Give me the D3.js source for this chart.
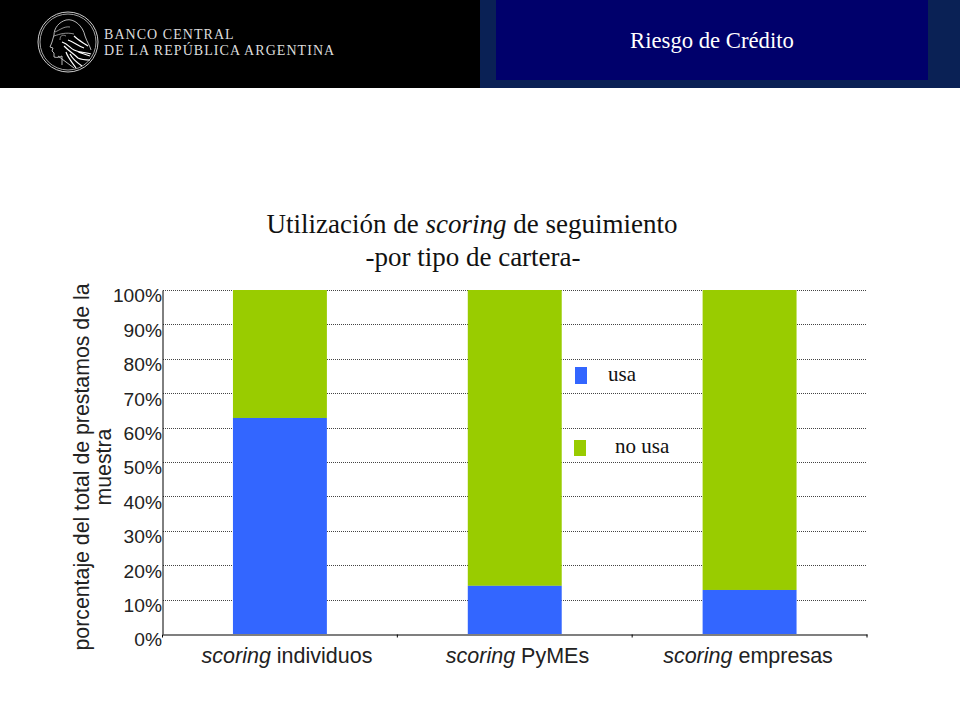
<!DOCTYPE html>
<html><head><meta charset="utf-8">
<script src="https://cdn.jsdelivr.net/npm/d3@7"></script>
<style>html,body{margin:0;padding:0;background:#fff}svg{display:block}</style>
</head><body>
<svg id="c" width="960" height="720"></svg>
<script>
const categories = ["individuos", "PyMEs", "empresas"];
const usa = [62.8, 14, 12.8];
const noUsa = [37.2, 86, 87.2];
const yTicks = [0,10,20,30,40,50,60,70,80,90,100];
const seriesNames = ["usa", "no usa"];
const colors = ["#3366ff", "#99cc00"];

const svg = d3.select("#c");
const sans = "'Liberation Sans',Arial,sans-serif", serif = "'Liberation Serif','Times New Roman',serif";

// header
svg.append("rect").attr("width",480).attr("height",88).attr("fill","#000");
svg.append("rect").attr("x",480).attr("width",480).attr("height",88).attr("fill","#0a2155");
svg.append("rect").attr("x",496).attr("width",432).attr("height",80).attr("fill","#00006b");
svg.append("text").attr("x",712).attr("y",48).attr("text-anchor","middle").attr("fill","#fff")
  .attr("font-family",serif).attr("font-size",22.7).text("Riesgo de Crédito");

// logo
const logo = svg.append("g").attr("fill","none").attr("stroke","#ccc");
logo.append("circle").attr("cx",68).attr("cy",42).attr("r",30).attr("stroke-width",1);
logo.append("circle").attr("cx",68).attr("cy",42).attr("r",28).attr("stroke-width",.8);
logo.append("path").attr("stroke-width",.9)
  .attr("d","M66 20C59 22 54 28 54 35L52 42L50 47L53 48L52 51L54 53L54 57C57 58 60 57 62 56L62 65M58 56L74 68M66 20C74 18 83 26 85 36C87 42 90 46 91 50");
logo.append("path").attr("stroke-width",.7)
  .attr("d","M55 32C60 30 64 26 70 27M54 36C60 34 66 32 74 34M60 40C60 36 62 34 66 36");
logo.append("path").attr("stroke","#fff").attr("stroke-width",1.2)
  .attr("d","M62 42C68 44 70 48 74 50C80 53 86 52 91 54M64 46C70 52 74 54 78 58C82 60 86 60 90 60M68 40C74 42 78 46 84 48M70 54C72 58 76 62 82 66M74 36C78 40 82 42 88 46M66 52C68 58 72 62 76 68M78 52L90 56");
svg.append("text").attr("x",104).attr("y",39).attr("fill","#ddd").attr("font-family",serif)
  .attr("font-size",14).attr("letter-spacing",1.05).text("BANCO CENTRAL");
svg.append("text").attr("x",104).attr("y",55).attr("fill","#ddd").attr("font-family",serif)
  .attr("font-size",14).attr("letter-spacing",1.05).text("DE LA REPÚBLICA ARGENTINA");

// title
const t1 = svg.append("text").attr("x",472).attr("y",233).attr("text-anchor","middle")
  .attr("font-family",serif).attr("font-size",27).attr("fill","#111");
t1.append("tspan").text("Utilización de ");
t1.append("tspan").attr("font-style","italic").text("scoring");
t1.append("tspan").text(" de seguimiento");
svg.append("text").attr("x",473).attr("y",266).attr("text-anchor","middle")
  .attr("font-family",serif).attr("font-size",27).attr("fill","#111").text("-por tipo de cartera-");

// scales
const x = d3.scaleBand().domain(categories).range([162.5,867]).paddingInner(0).paddingOuter(0);
const y = d3.scaleLinear().domain([0,100]).range([634,290]);
const labelX = d3.scalePoint().domain(categories).range([287,748]);
const barW = x.bandwidth()*0.4;

// gridlines
svg.append("g").attr("shape-rendering","crispEdges").selectAll("line").data(yTicks.filter(d=>d>0)).join("line")
  .attr("x1",163).attr("x2",867).attr("y1",d=>Math.round(y(d))+.5).attr("y2",d=>Math.round(y(d))+.5)
  .attr("stroke","#444").attr("stroke-width",1).attr("stroke-dasharray","1 1");

// bars
categories.forEach((c,i)=>{
  const bx = x(c)+x.bandwidth()/2-barW/2;
  svg.append("rect").attr("x",bx).attr("width",barW).attr("y",y(usa[i]+noUsa[i])).attr("height",y(usa[i])-y(usa[i]+noUsa[i])).attr("fill",colors[1]);
  svg.append("rect").attr("x",bx).attr("width",barW).attr("y",y(usa[i])).attr("height",y(0)-y(usa[i])).attr("fill",colors[0]);
});

// y axis
const ya = svg.append("g").attr("transform","translate(162.5,0)")
  .call(d3.axisLeft(y).tickValues(yTicks).tickFormat(d=>d+"%").tickSize(0).tickPadding(0));
ya.select(".domain").attr("stroke","#000").attr("stroke-width",1);
ya.selectAll("text").attr("font-family",sans).attr("font-size",19.2).attr("fill","#222").attr("dy","0.62em").attr("dx","-0.5");

// x axis
const xa = svg.append("g").attr("transform","translate(0,634.5)")
  .call(d3.axisBottom(x).tickValues([]).tickSizeOuter(0));
xa.select(".domain").attr("stroke","#000").attr("stroke-width",1.2);
xa.selectAll("line.sep").data([...categories.map(c=>x(c)),x.range()[1]]).join("line").attr("class","sep")
  .attr("x1",d=>d).attr("x2",d=>d).attr("y1",0).attr("y2",3).attr("stroke","#000");
svg.append("g").selectAll("text").data(categories).join("text")
  .attr("x",d=>labelX(d)).attr("y",663).attr("text-anchor","middle")
  .attr("font-family",sans).attr("font-size",21.5).attr("fill","#222")
  .each(function(d){
    const s=d3.select(this);
    s.append("tspan").attr("font-style","italic").text("scoring");
    s.append("tspan").text(" "+d);
  });

// y title
const yt = svg.append("text").attr("transform","translate(0,467) rotate(-90)").attr("text-anchor","middle")
  .attr("font-family",sans).attr("font-size",21.3).attr("fill","#222");
yt.append("tspan").attr("x",0).attr("y",89).text("porcentaje del total de prestamos de la");
yt.append("tspan").attr("x",0).attr("y",111).text("muestra");

// legend
svg.append("rect").attr("x",575).attr("y",367).attr("width",12).attr("height",17).attr("fill",colors[0]);
svg.append("rect").attr("x",574).attr("y",440).attr("width",12).attr("height",16).attr("fill",colors[1]);
svg.append("text").attr("x",608).attr("y",381).attr("font-family",serif).attr("font-size",21).attr("fill","#111").text(seriesNames[0]);
svg.append("text").attr("x",615).attr("y",453).attr("font-family",serif).attr("font-size",21).attr("fill","#111").text(seriesNames[1]);
</script>
</body></html>
